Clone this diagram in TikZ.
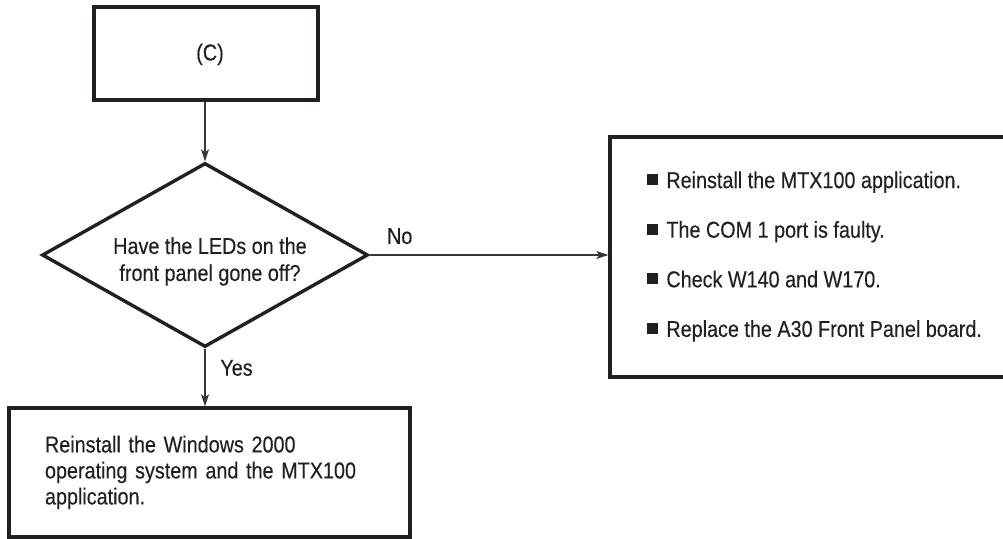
\documentclass[tikz,border=0pt]{standalone}
\usepackage{fontspec}
\setmainfont{Liberation Sans}[FakeStretch=0.86,FakeBold=0.3]
\usetikzlibrary{arrows.meta,shapes.geometric,positioning,calc}
\definecolor{inkdark}{RGB}{35,31,32}
\definecolor{arrowgray}{RGB}{55,55,55}

\begin{document}
\begin{tikzpicture}[
  x=0.5pt,y=-0.5pt,
  every node/.style={text=inkdark,font=\fontsize{11.5}{13.5}\selectfont},
  blk/.style={rectangle,draw=inkdark,line width=1.7pt,inner sep=0pt},
  dec/.style={diamond,draw=inkdark,line width=1.7pt,aspect=1.77,inner sep=0pt,
              minimum width=163pt,minimum height=92pt},
  arr/.style={-{Stealth[length=6pt,width=4pt,inset=1.5pt]},line width=0.6pt,draw=arrowgray},
  lbl/.style={inner sep=0pt},
]
\path[use as bounding box] (0,0) rectangle (1003,539);
\clip (0,0) rectangle (1003,539);

\node[blk,minimum width=112pt,minimum height=46.5pt] (cbox) at (206,53.5) {};
\node[lbl] (ctag) at ($(cbox.center)+(4,1)$) {(C)};
\node[dec] (ask) at (205,255) {};
\node[lbl,align=center] (askq) at ($(ask.center)+(5,6.5)$)
  {Have the LEDs on the\\front panel gone off?};
\node[blk,minimum width=205pt,minimum height=120pt] (fix) at (815,257) {};
\node[blk,minimum width=200.5pt,minimum height=64.5pt,inner xsep=18pt,
      text width=164.5pt,align=left,font=\fontsize{11.5}{13}\selectfont] (win) at (209.5,472.5)
  {Reinstall the Windows 2000\\operating system and the MTX100\\application.};

% check list in the right box
\foreach \t [count=\i] in {Reinstall the MTX100 application.,The COM 1 port is faulty.,
                           Check W140 and W170.,Replace the A30 Front Panel board.}{
  \node[lbl,anchor=base west] (fix\i) at (647,{138.5+49.6*\i})
    {\rule[1.5pt]{5.5pt}{5.5pt}\hspace{4pt}\t};
}

\draw[arr] (ask.north |- cbox.south) -- (ask.north);
\draw[arr] (ask.east) -- (ask.east -| fix.west);
\draw[arr] (ask.south) -- (ask.south |- win.north);

\node[lbl,anchor=base west] (no) at ($(ask.east)+(17,-11)$) {No};
\node[lbl,anchor=base west] (yes) at ($(ask.south)+(15,27)$) {Yes};
\end{tikzpicture}
\end{document}
